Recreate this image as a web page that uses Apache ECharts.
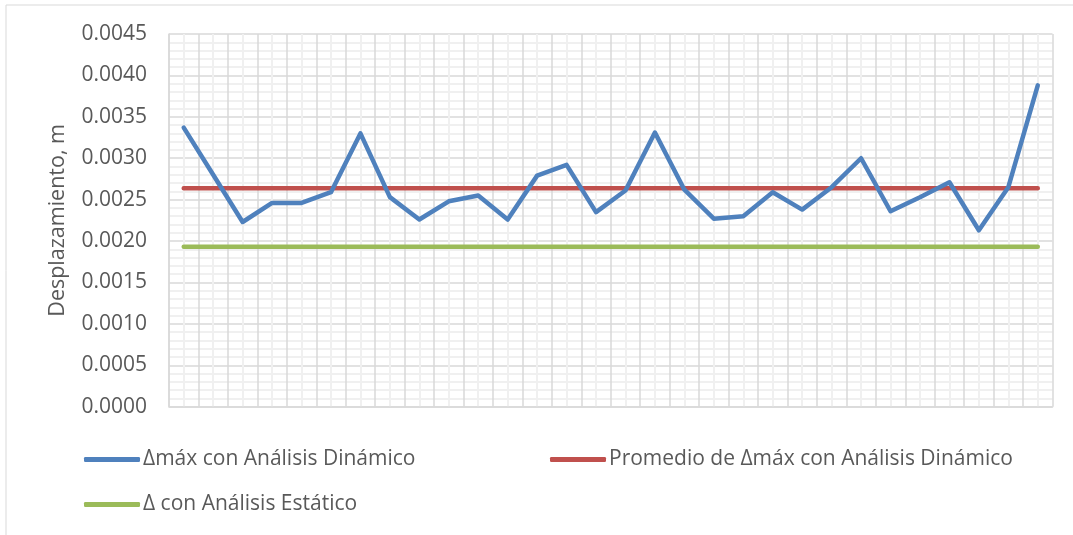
<!DOCTYPE html>
<html>
<head>
<meta charset="utf-8">
<script src="https://cdn.jsdelivr.net/npm/echarts@6/dist/echarts.min.js"></script>
<style>
  html, body { margin: 0; padding: 0; background: #ffffff; }
  #chart { width: 1073px; height: 535px; }
</style>
</head>
<body>
<div id="chart"></div>
<script>
// Story / level numbers along the horizontal axis (labels not shown)
const categories = ['1','2','3','4','5','6','7','8','9','10','11','12','13','14','15',
                    '16','17','18','19','20','21','22','23','24','25','26','27','28','29','30'];

// Maximum displacement from the dynamic analysis, m
const dynamicMax = [0.00337, 0.00280, 0.00223, 0.00246, 0.00246, 0.00259, 0.00330, 0.00253,
                    0.00226, 0.00248, 0.00255, 0.00226, 0.00279, 0.00292, 0.00235, 0.00261,
                    0.00331, 0.00262, 0.00227, 0.00230, 0.00259, 0.00238, 0.00265, 0.00300,
                    0.00236, 0.00253, 0.00271, 0.00213, 0.00265, 0.00388];

// Average of the dynamic maxima, m
const dynamicAvg = [0.002637, 0.002637, 0.002637, 0.002637, 0.002637, 0.002637, 0.002637, 0.002637,
                    0.002637, 0.002637, 0.002637, 0.002637, 0.002637, 0.002637, 0.002637, 0.002637,
                    0.002637, 0.002637, 0.002637, 0.002637, 0.002637, 0.002637, 0.002637, 0.002637,
                    0.002637, 0.002637, 0.002637, 0.002637, 0.002637, 0.002637];

// Displacement from the static analysis, m
const staticDelta = [0.00193, 0.00193, 0.00193, 0.00193, 0.00193, 0.00193, 0.00193, 0.00193,
                     0.00193, 0.00193, 0.00193, 0.00193, 0.00193, 0.00193, 0.00193, 0.00193,
                     0.00193, 0.00193, 0.00193, 0.00193, 0.00193, 0.00193, 0.00193, 0.00193,
                     0.00193, 0.00193, 0.00193, 0.00193, 0.00193, 0.00193];

const seriesNames = ['Δmáx con Análisis Dinámico',
                     'Promedio de Δmáx con Análisis Dinámico',
                     'Δ con Análisis Estático'];

const yMin = 0, yMax = 0.0045, yStep = 0.0005;

const FONT = '"Open Sans", "DejaVu Sans", sans-serif';
const TEXT = '#595959';
const MAJOR = '#d9d9d9';
const MINOR = '#f0f0f0';

const chart = echarts.init(document.getElementById('chart'), null, { renderer: 'canvas' });

const legendBase = {
  orient: 'horizontal',
  itemWidth: 56,
  itemHeight: 5,
  icon: 'roundRect',
  itemGap: 0,
  padding: 0,
  textStyle: { fontFamily: FONT, fontSize: 21, color: TEXT, padding: [0, 0, 0, -2] }
};

chart.setOption({
  animation: false,
  backgroundColor: '#ffffff',
  graphic: [{
    type: 'rect',
    shape: { x: 6, y: 5, width: 1100, height: 560 },
    style: { fill: 'none', stroke: MAJOR, lineWidth: 1 },
    silent: true,
    z: -10
  }],
  grid: { left: 169, top: 34, right: 20.5, bottom: 128.3, containLabel: false },
  legend: [
    Object.assign({}, legendBase, { data: [seriesNames[0]], left: 84, top: 449 }),
    Object.assign({}, legendBase, { data: [seriesNames[1]], left: 550, top: 449 }),
    Object.assign({}, legendBase, { data: [seriesNames[2]], left: 84, top: 494 })
  ],
  xAxis: [{
    type: 'category',
    data: categories,
    boundaryGap: true,
    axisLine: { show: true, lineStyle: { color: MAJOR, width: 1.5 } },
    axisTick: { show: false },
    axisLabel: { show: false },
    splitLine: { show: false }
  }, {
    // value axis used only to draw the vertical grid: major lines at
    // category boundaries, minor lines through category centres
    type: 'value',
    position: 'top',
    min: 0,
    max: categories.length,
    interval: 1,
    axisLine: { show: false },
    axisTick: { show: false },
    axisLabel: { show: false },
    minorTick: { show: false, splitNumber: 2 },
    minorSplitLine: { show: true, lineStyle: { color: MINOR, width: 2 } },
    splitLine: { show: true, lineStyle: { color: MAJOR, width: 1.5 } }
  }],
  yAxis: {
    type: 'value',
    min: yMin,
    max: yMax,
    interval: yStep,
    name: 'Desplazamiento, m',
    nameLocation: 'middle',
    nameGap: 100,
    nameRotate: 90,
    nameTextStyle: { fontFamily: FONT, fontSize: 21.5, color: TEXT },
    axisLine: { show: true, lineStyle: { color: MAJOR, width: 1.5 } },
    axisTick: { show: false },
    axisLabel: {
      fontFamily: FONT, fontSize: 21, color: TEXT, margin: 22,
      formatter: v => v.toFixed(4)
    },
    minorTick: { show: false, splitNumber: 5 },
    minorSplitLine: { show: true, lineStyle: { color: MINOR, width: 2 } },
    splitLine: { show: true, lineStyle: { color: MAJOR, width: 1.5 } }
  },
  series: [{
    name: seriesNames[0],
    type: 'line',
    data: dynamicMax,
    xAxisIndex: 0,
    symbol: 'none',
    color: '#4f81bd',
    lineStyle: { width: 4.5, cap: 'round', join: 'round' },
    z: 5
  }, {
    name: seriesNames[1],
    type: 'line',
    data: dynamicAvg,
    xAxisIndex: 0,
    symbol: 'none',
    color: '#c0504d',
    lineStyle: { width: 4.5, cap: 'round' },
    z: 4
  }, {
    name: seriesNames[2],
    type: 'line',
    data: staticDelta,
    xAxisIndex: 0,
    symbol: 'none',
    color: '#9bbb59',
    lineStyle: { width: 4.5, cap: 'round' },
    z: 3
  }]
});
</script>
</body>
</html>
